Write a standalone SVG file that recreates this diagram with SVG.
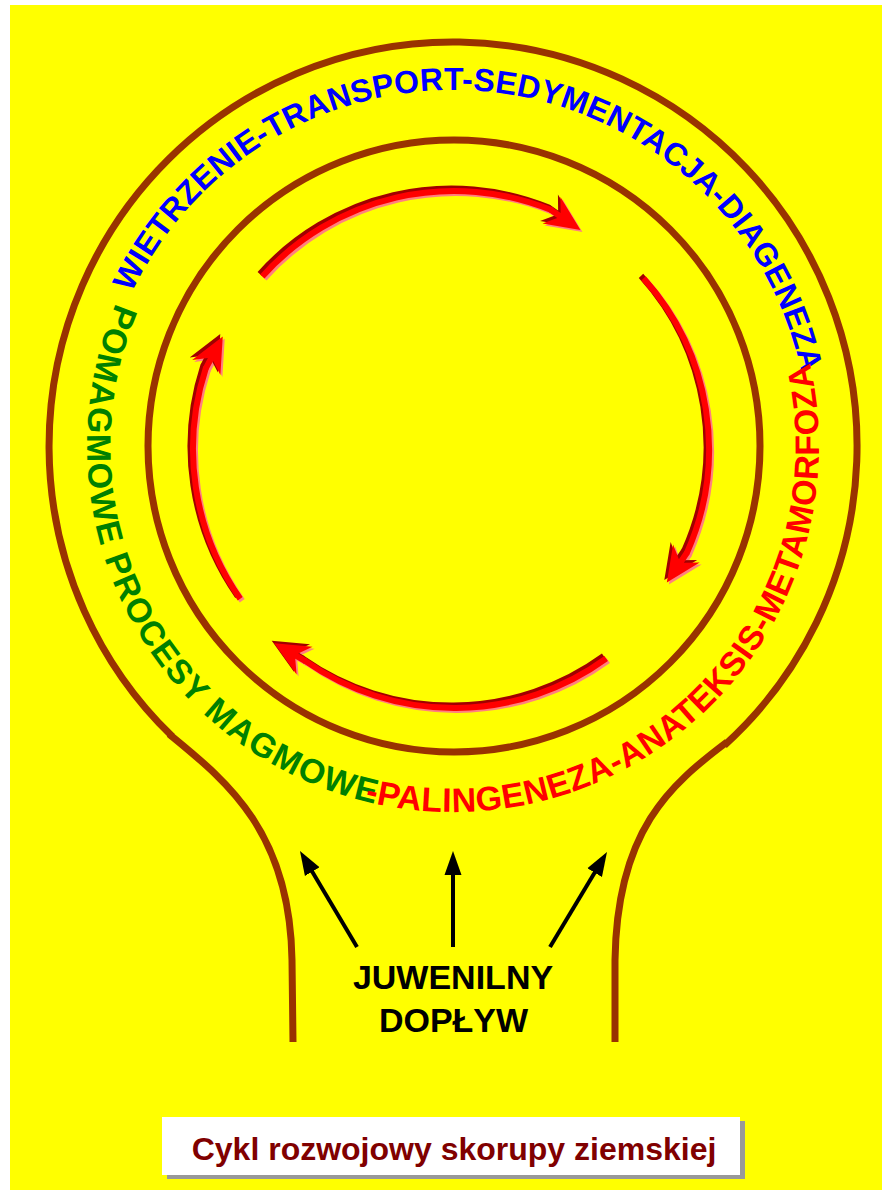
<svg xmlns="http://www.w3.org/2000/svg" width="882" height="1192" viewBox="0 0 882 1192">
<defs>
<style>
.ring{fill:none;stroke:#993300;stroke-width:7}
.t{font-family:"Liberation Sans",Arial,sans-serif;font-weight:bold}
.shaft{fill:none;stroke-width:6;stroke-linecap:butt;stroke-linejoin:round}
.r{stroke:#FF0000;marker-end:url(#mR)}
.d{stroke:#A00000;marker-end:url(#mD)}
.p{stroke:#FF8080;marker-end:url(#mP)}
.bk{stroke:#000;stroke-width:4;fill:none;marker-end:url(#mB)}
</style>
<marker id="mR" markerUnits="userSpaceOnUse" viewBox="-5 -20 45 40" markerWidth="45" markerHeight="40" refX="0" refY="0" orient="auto"><path d="M35,0 L0,-16 L9,-3 L-1,-3 L-1,3 L9,3 L0,16 Z" fill="#FF0000"/></marker>
<marker id="mD" markerUnits="userSpaceOnUse" viewBox="-5 -20 45 40" markerWidth="45" markerHeight="40" refX="0" refY="0" orient="auto"><path d="M35,0 L0,-16 L9,-3 L-1,-3 L-1,3 L9,3 L0,16 Z" fill="#A00000"/></marker>
<marker id="mP" markerUnits="userSpaceOnUse" viewBox="-5 -20 45 40" markerWidth="45" markerHeight="40" refX="0" refY="0" orient="auto"><path d="M35,0 L0,-16 L9,-3 L-1,-3 L-1,3 L9,3 L0,16 Z" fill="#FF8080"/></marker>
<marker id="mB" markerUnits="userSpaceOnUse" viewBox="0 -10 30 20" markerWidth="30" markerHeight="20" refX="4" refY="0" orient="auto"><path d="M0,-8.5 L24,0 L0,8.5 Z" fill="#000"/></marker>
<path id="a1" d="M262.3,276.4 A258,258 0 0 1 550.65,209.8 l0.83,0.56"/>
<path id="a2" d="M643.5,278.37 A255,255 0 0 1 686.95,552.72 l-0.56,0.83"/>
<path id="a3" d="M606.2,658.5 A259,259 0 0 1 305.44,661.16 l-0.87,-0.5"/>
<path id="a4" d="M240.2,598.7 A261,261 0 0 1 205.8,368.3 l0.47,-0.88"/>
<path id="pBlue" d="M131.7,292.7 A356,356 0 0 1 803.6,507.8"/>
<path id="pGreen" d="M116.1,303 A366,366 0 0 0 453,812"/>
<path id="pRed" d="M364.5,801.1 A366,366 0 0 0 733.4,210.7"/>
</defs>
<g id="background">
<rect x="0" y="0" width="882" height="1192" fill="#FFFFFF"/>
<rect x="10" y="5" width="872" height="1185" fill="#FFFF00"/>
</g>
<g id="crust-outline">
<path class="ring" d="M172.4,736.6 A404,404 0 1 1 724.4,745.3"/>
<path class="ring" d="M169,734 C225,780 290,830 292,960 L293,1042"/>
<path class="ring" d="M727,742 C670,785 617,830 615,960 L615,1042"/>
<circle class="ring" cx="454" cy="446" r="306"/>
</g>
<g id="ring-labels">
<text id="label-wietrzenie" class="t" font-size="32" fill="#0000FF" letter-spacing="0.2"><textPath href="#pBlue">WIETRZENIE-TRANSPORT-SEDYMENTACJA-DIAGENEZA</textPath></text>
<text id="label-magmowe" class="t" font-size="34" fill="#008000" letter-spacing="1.3"><textPath href="#pGreen">POMAGMOWE PROCESY MAGMOWE</textPath></text>
<text id="label-palingeneza" class="t" font-size="34" fill="#FF0000" letter-spacing="0.4"><textPath href="#pRed">-PALINGENEZA-ANATEKSIS-METAMORFOZA</textPath></text>
</g>
<g id="cycle-arrows">
<g id="arrow-top"><use href="#a1" class="shaft p" transform="translate(2,2)"/><use href="#a1" class="shaft d" transform="translate(-2.5,-2.5)"/><use href="#a1" class="shaft r"/></g>
<g id="arrow-right"><use href="#a2" class="shaft p" transform="translate(2,2)"/><use href="#a2" class="shaft d" transform="translate(-2.5,-2.5)"/><use href="#a2" class="shaft r"/></g>
<g id="arrow-bottom"><use href="#a3" class="shaft p" transform="translate(2,2)"/><use href="#a3" class="shaft d" transform="translate(-2.5,-2.5)"/><use href="#a3" class="shaft r"/></g>
<g id="arrow-left"><use href="#a4" class="shaft p" transform="translate(2,2)"/><use href="#a4" class="shaft d" transform="translate(-2.5,-2.5)"/><use href="#a4" class="shaft r"/></g>
</g>
<g id="connectors">
<path class="bk" d="M357,947 L310.2,868.2"/>
<path class="bk" d="M453,947 L453,871"/>
<path class="bk" d="M550,947 L596.7,869.2"/>
</g>
<g id="node-juwenilny">
<text class="t" font-size="34" fill="#000" text-anchor="middle" x="453" y="989">JUWENILNY</text>
<text class="t" font-size="34" fill="#000" text-anchor="middle" x="453.5" y="1032">DOPŁYW</text>
</g>
<g id="caption">
<rect x="167" y="1121" width="578" height="58" fill="#999999"/>
<rect x="162" y="1117" width="578" height="58" fill="#FFFFFF"/>
<text class="t" font-size="32" fill="#800000" text-anchor="middle" x="454" y="1160">Cykl rozwojowy skorupy ziemskiej</text>
</g>
</svg>
